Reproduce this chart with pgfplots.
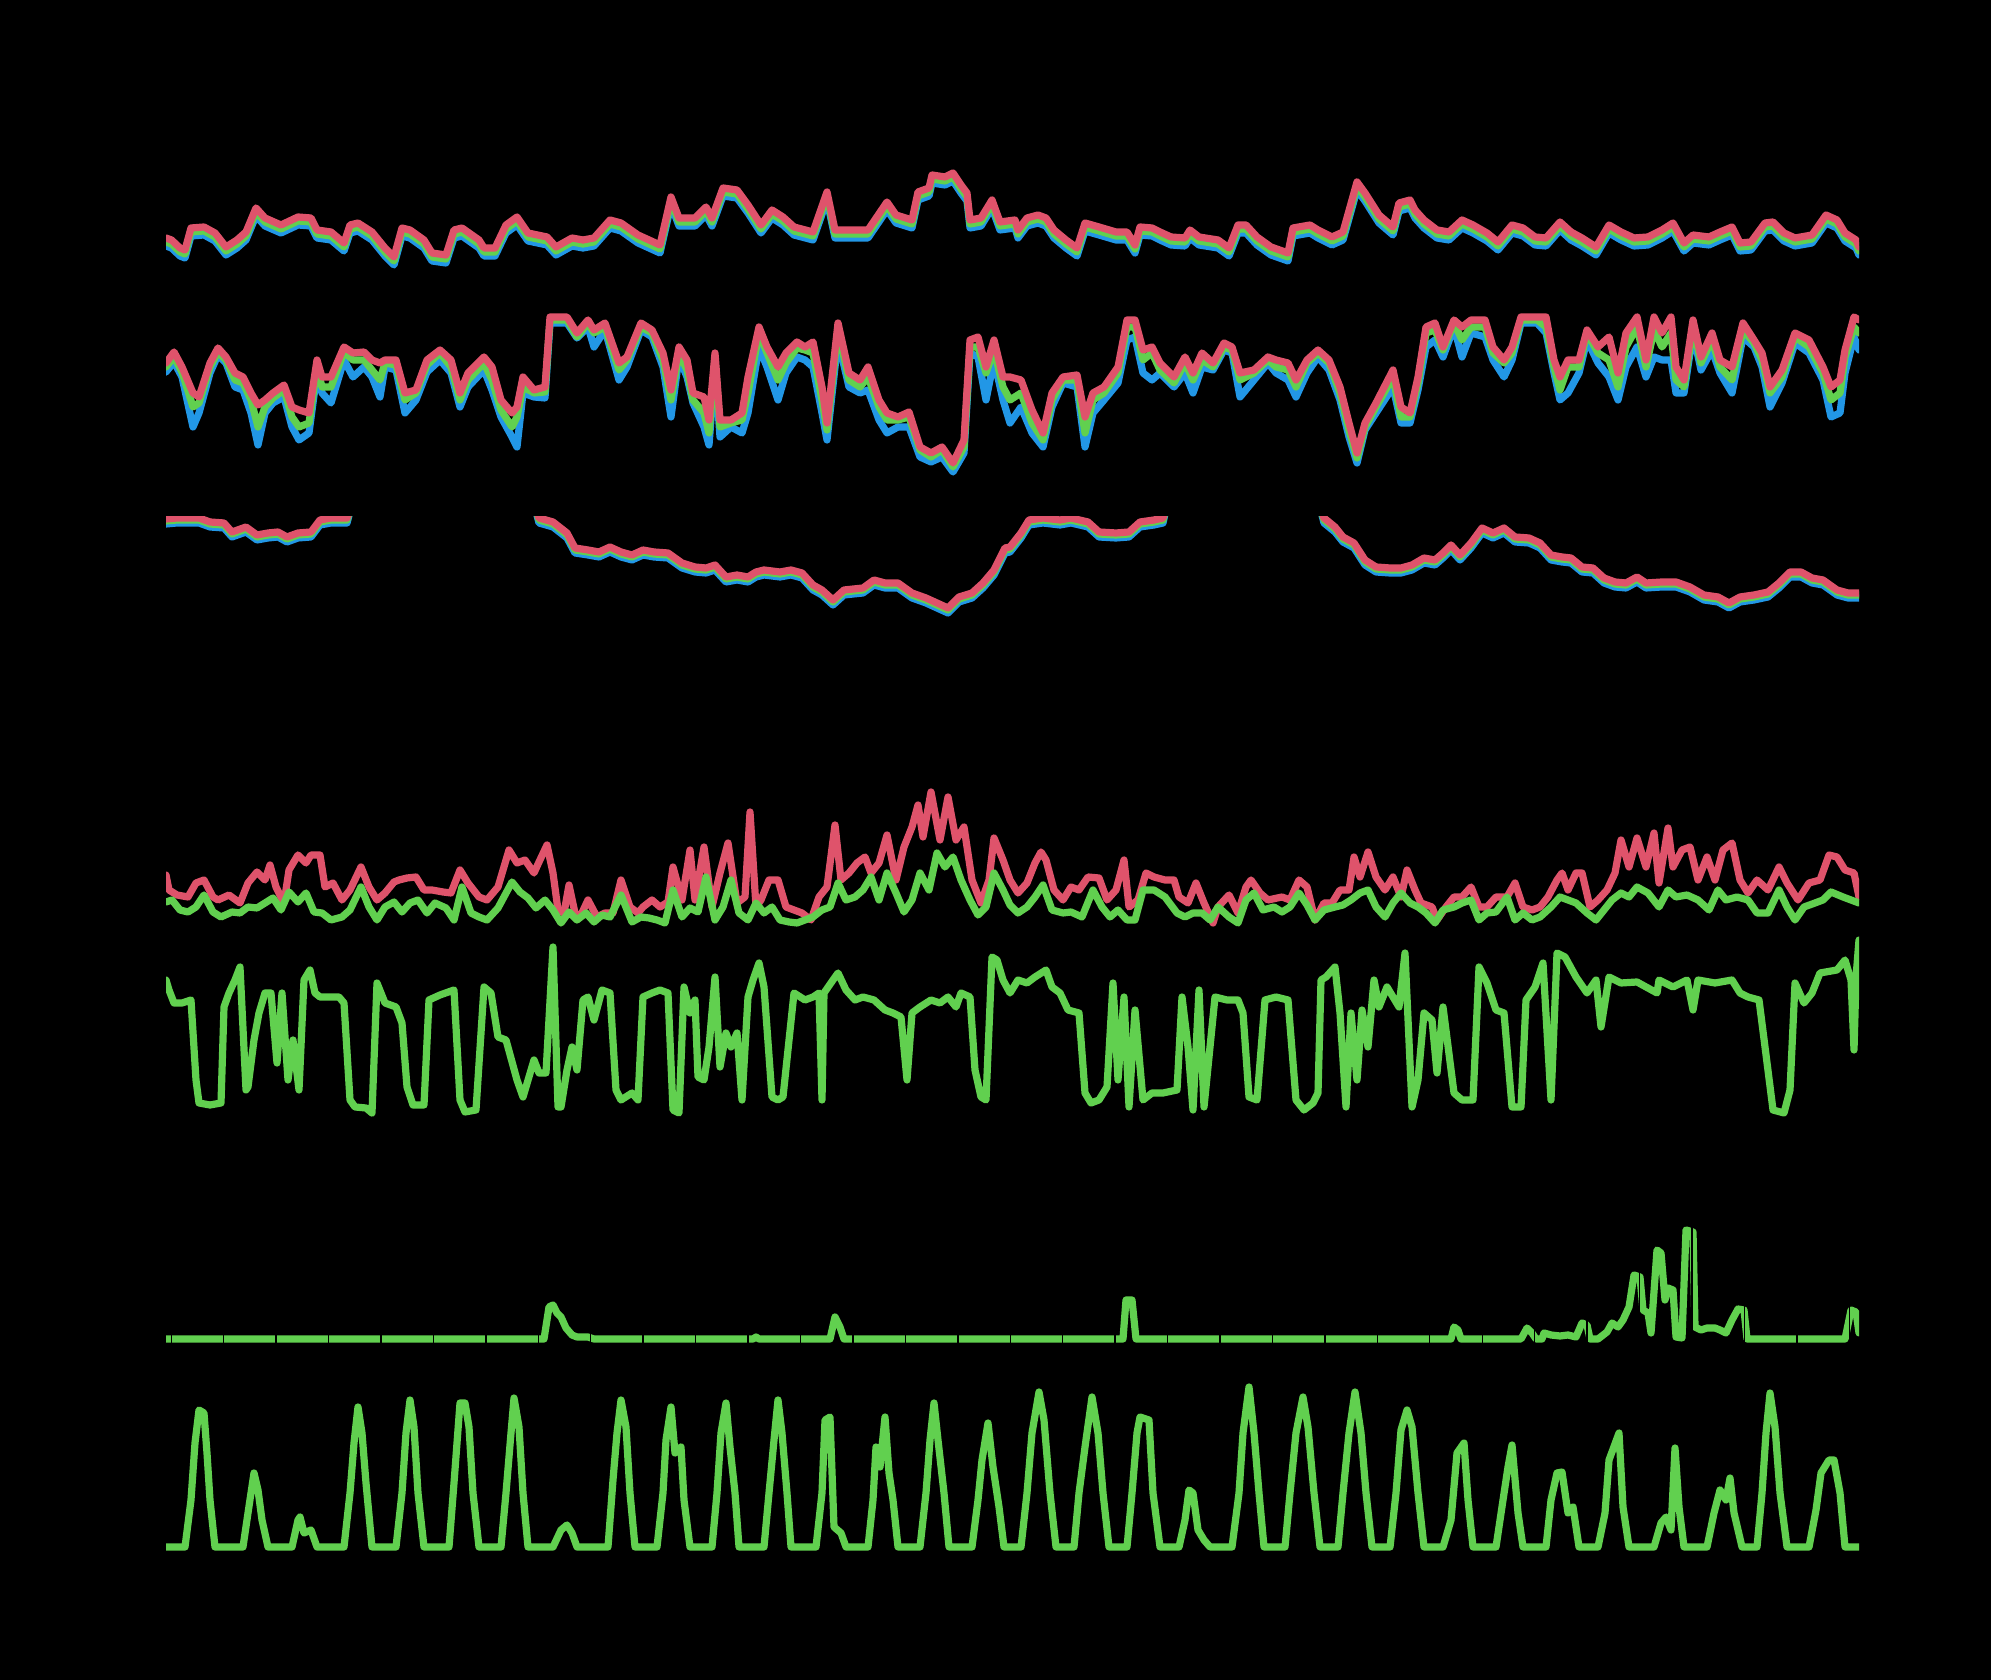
\documentclass[border=0pt]{standalone}
\usepackage{pgfplots}
\usepackage{pgfplotstable}
\pgfplotsset{compat=1.18}
\definecolor{rred}{HTML}{DF536B}
\definecolor{rgreen}{HTML}{61D04F}
\definecolor{rblue}{HTML}{2297E6}
\tikzset{L/.style={line width=1.8pt, line join=round, line cap=round}}
\pgfplotsset{panel/.style={scale only axis, width=423.25pt, xmin=0, xmax=1693,
  anchor=south west, axis line style={draw=none}, xtick=\empty, ytick=\empty}}

\pgfplotstableread{
x r g b
0 35 31 27
5.5 33 29 25
14 25 21 17
19 23 19 15
25 45 41 37
38 46 42 38
49 40 36 32
60 26 22 18
71 33 29 25
80 41 37 33
90 65 61 57
99 55 51 47
115 48 44 40
132 56 52 48
145 55 51 47
151 43 39 35
165 41 37 33
178 30 26 22
184 48 44 40
192 50 46 42
206 41 37 33
219 25 21 17
228 16 12 8
236 45 41 37
244 43 39 35
258 33 29 25
266 20 16 12
280 18 14 10
288 43 39 35
296 45 41 37
313 33 29 25
318 25 21 17
329 25 21 17
340 48 44 40
351 56 52 48
362 40 36 32
381 36 32 28
390 26 22 18
406 35 31 27
417 33 29 25
428 35 31 27
444 53 49 45
455 50 46 42
472 38 34 30
494 28 24 20
505 76 72 68
513 55 51 47
529 55 51 47
540 66 62 58
546 55 51 47
557 85 81 77
571 83 79 75
582 68 64 60
595 48 44 40
606 63 59 55
617 56 52 48
628 46 42 38
647 41 37 33
661 81 77 73
669 43 39 35
686 43 39 35
702 43 39 35
721 71 67 63
730 58 54 50
746 53 49 45
752 81 77 73
763 85 81 77
766 98 94 90
779 96 92 88
787 100 96 92
795 88 84 80
801 80 76 72
804 53 49 45
815 55 51 47
826 73 69 65
834 51 47 43
849 53 49 45
852 43 39 35
861 55 51 47
872 58 54 50
880 55 51 47
888 43 39 35
900 33 29 25
911 25 21 17
919 50 46 42
933 46 42 38
950 41 37 33
961 41 37 33
969 28 24 20
974 46 42 38
986 45 41 37
994 41 37 33
1005 36 32 28
1019 35 31 27
1024 43 39 35
1033 36 32 28
1052 33 29 25
1063 25 21 17
1072 48 44 40
1080 48 44 40
1091 36 32 28
1105 26 22 18
1122 20 16 12
1127 45 41 37
1144 48 44 40
1152 43 39 35
1166 36 32 28
1177 41 37 33
1191 91 87 83
1199 80 76 72
1213 58 54 50
1227 46 42 38
1233 70 66 62
1244 73 69 65
1249 63 59 55
1258 53 49 45
1271 43 39 35
1283 41 37 33
1296 53 49 45
1307 48 44 40
1321 40 36 32
1332 31 27 23
1346 48 44 40
1357 45 41 37
1369 36 32 28
1380 35 31 27
1394 51 47 43
1405 41 37 33
1416 35 31 27
1430 26 22 18
1443 48 44 40
1455 41 37 33
1468 35 31 27
1482 36 32 28
1496 43 39 35
1507 50 46 42
1518 30 26 22
1527 38 34 30
1543 36 32 28
1554 41 37 33
1566 46 42 38
1574 30 26 22
1585 31 27 23
1599 50 46 42
1607 51 47 43
1618 40 36 32
1629 35 31 27
1646 38 34 30
1660 58 54 50
1671 53 49 45
1679 40 36 32
1690 33 29 25
1693 26 22 18
}\tabA

\pgfplotstableread{
x r g b
0 120 116 111
8 131 126 121
16 116 111 106
27 90 76 56
33 86 80 70
44 120 116 110
52 135 131 128
60 126 123 120
69 110 103 96
77 106 100 93
85 90 83 70
92 78 56 38
99 83 76 70
107 90 85 80
118 98 93 86
126 76 66 56
133 73 56 43
143 70 60 50
151 123 116 110
156 106 96 90
165 106 96 80
178 136 131 123
187 130 123 106
198 131 123 116
206 123 113 106
214 120 103 86
219 123 120 116
230 123 118 113
239 90 83 70
250 93 90 83
261 123 118 111
274 133 130 123
285 123 116 110
294 90 83 76
302 110 103 96
318 126 120 113
326 116 103 93
335 83 73 66
346 70 56 46
351 76 66 36
357 106 96 90
368 93 90 86
379 96 91 85
384 166 163 160
401 166 163 160
411 150 146 145
422 163 160 156
428 153 150 136
439 160 156 153
453 120 113 103
461 126 123 116
475 160 156 153
486 153 150 146
497 130 123 116
505 93 83 66
513 136 130 126
521 123 113 106
527 90 83 80
538 86 70 56
543 63 50 38
549 130 123 116
554 63 56 46
565 63 60 56
576 70 63 50
582 106 90 70
593 156 150 136
601 136 130 116
612 116 103 83
620 130 120 110
631 141 135 126
639 136 133 123
647 141 130 116
656 96 83 70
661 60 53 43
672 160 153 143
683 110 103 96
694 103 96 90
702 116 106 93
713 83 76 63
721 70 63 50
732 66 63 56
743 71 66 56
754 36 33 26
765 30 26 21
776 36 33 26
787 20 16 11
798 43 36 30
804 143 136 130
812 146 136 126
820 116 110 83
828 143 133 123
837 106 96 83
844 106 83 60
855 103 90 76
866 73 60 50
877 50 43 36
886 90 83 76
897 106 103 100
911 108 103 96
919 66 50 36
927 90 83 70
938 96 90 83
952 116 110 100
961 163 156 143
969 163 156 146
977 133 123 110
986 136 130 103
994 120 113 110
1008 106 100 96
1019 126 120 110
1027 110 103 90
1036 130 123 116
1047 120 116 113
1058 140 136 133
1066 136 133 130
1074 110 103 86
1088 113 110 103
1102 126 123 120
1110 123 116 110
1122 120 113 103
1130 103 96 86
1141 123 120 110
1152 133 130 126
1163 123 120 113
1174 96 90 83
1183 60 53 46
1191 30 25 20
1199 60 56 53
1210 80 76 70
1227 113 106 96
1235 76 66 60
1244 70 66 60
1252 106 100 93
1260 156 150 136
1269 160 153 143
1277 136 133 126
1288 163 160 156
1296 156 143 126
1305 163 156 150
1319 163 156 146
1327 136 130 123
1338 123 120 106
1346 136 130 123
1355 166 163 160
1371 166 163 160
1380 166 156 150
1388 123 116 110
1394 106 93 83
1402 123 116 90
1413 123 116 110
1421 153 150 143
1432 136 130 120
1443 146 123 106
1452 110 96 83
1460 150 136 116
1471 166 156 136
1480 123 116 106
1488 166 153 126
1496 150 136 123
1505 166 150 123
1510 116 103 90
1518 103 96 90
1527 163 156 150
1535 126 120 113
1546 150 143 133
1554 123 116 110
1566 116 103 90
1577 160 153 146
1588 143 140 136
1596 130 123 116
1604 96 90 76
1616 113 106 100
1629 150 146 140
1643 143 136 130
1657 116 110 103
1665 96 83 66
1674 103 90 70
1679 133 126 110
1688 166 156 146
1693 163 150 133
}\tabB

\pgfplotstableread{
x r g b
0 116 114 111
11 117 115 112
33 117 115 112
44 113 111 108
58 112 110 107
66 103 101 98
80 108 106 103
91 100 98 95
102 102 100 97
112 103 101 98
121 98 96 93
132 102 100 97
145 103 101 98
154 115 113 110
165 117 115 112
181 117 115 112
187 135 135 135
367 135 135 135
373 117 115 112
387 113 111 108
401 102 100 97
409 87 85 82
422 85 83 80
433 83 81 78
444 88 86 83
455 83 81 78
466 80 78 75
477 85 83 80
488 83 81 78
502 82 80 77
516 72 70 67
529 68 66 63
540 67 65 62
549 70 68 65
560 58 56 53
571 60 58 55
582 58 56 53
590 63 61 58
598 65 63 60
614 63 61 58
625 65 63 60
636 62 60 57
647 50 48 45
656 45 43 40
667 35 33 30
678 45 43 40
697 47 45 42
708 55 53 50
719 52 50 47
732 52 50 47
746 42 40 37
760 37 35 32
771 32 30 27
782 27 25 22
793 38 36 33
806 42 40 37
817 52 50 47
828 65 63 60
839 87 85 82
844 88 86 83
855 102 100 97
863 115 113 110
877 117 115 112
894 115 113 110
905 117 115 112
922 113 111 108
933 103 101 98
950 102 100 97
963 103 101 98
974 113 111 108
988 115 113 110
997 117 115 112
1002 135 135 135
1152 135 135 135
1158 117 115 112
1169 108 106 103
1177 98 96 93
1188 92 90 87
1199 75 73 70
1210 68 66 63
1224 67 65 62
1235 67 65 62
1246 70 68 65
1258 77 75 72
1269 75 73 70
1277 82 80 77
1285 90 88 85
1294 80 78 75
1305 92 90 87
1316 107 105 102
1327 102 100 97
1338 107 105 102
1349 98 96 93
1363 97 95 92
1374 92 90 87
1385 80 78 75
1396 78 76 73
1405 77 75 72
1416 68 66 63
1427 67 65 62
1438 57 55 52
1449 53 51 48
1460 52 50 47
1471 58 56 53
1480 52 50 47
1496 53 51 48
1510 53 51 48
1524 48 46 43
1538 40 38 35
1552 38 36 33
1563 32 30 27
1574 38 36 33
1588 40 38 35
1602 43 41 38
1613 52 50 47
1624 63 61 58
1635 63 61 58
1646 57 55 52
1657 55 53 50
1671 45 43 40
1682 42 40 37
1693 42 40 37
}\tabC

\pgfplotstableread{
x y
0 55
3 40
11 35
22 33
30 47
38 50
47 33
52 30
63 35
74 27
82 47
91 58
99 50
104 65
110 43
118 27
123 60
132 75
140 67
145 75
154 75
159 43
167 47
176 30
184 40
195 63
203 43
211 30
219 37
228 48
233 50
241 52
250 53
258 40
266 40
277 38
285 37
294 60
302 47
313 33
321 30
332 43
343 80
351 67
359 70
368 57
373 68
381 85
387 57
392 20
398 17
403 45
409 17
414 13
422 30
431 13
439 17
447 17
455 50
464 23
472 17
477 23
486 30
494 23
502 28
507 63
516 30
524 80
529 30
538 83
546 23
554 57
562 87
571 27
579 33
584 118
590 23
595 30
603 50
612 50
620 23
628 20
636 17
645 10
653 33
661 43
669 105
675 50
683 57
691 67
699 73
705 57
713 67
721 95
730 50
738 83
746 103
752 125
757 93
765 138
774 90
782 133
790 90
798 103
806 50
815 27
823 50
828 92
837 70
844 50
852 37
861 47
869 67
875 78
880 70
888 40
897 30
905 43
913 40
922 53
933 52
941 30
950 40
958 70
963 23
972 30
980 57
988 53
999 50
1008 50
1013 33
1022 27
1030 47
1038 27
1047 7
1052 23
1063 35
1072 17
1080 43
1085 50
1094 37
1102 30
1116 33
1124 30
1133 50
1141 43
1149 10
1158 27
1166 27
1174 40
1183 40
1188 73
1194 53
1202 78
1210 53
1219 40
1227 53
1235 33
1241 60
1249 40
1255 27
1266 23
1271 10
1280 23
1288 33
1296 33
1305 43
1313 23
1321 23
1330 33
1341 33
1349 47
1357 23
1366 20
1374 23
1382 33
1391 50
1396 57
1402 40
1410 57
1416 57
1424 23
1432 30
1441 40
1449 57
1455 90
1463 63
1471 92
1480 63
1488 97
1493 47
1502 102
1507 63
1516 80
1524 83
1532 50
1541 73
1549 50
1557 80
1566 87
1574 50
1582 37
1591 50
1602 40
1613 63
1621 47
1632 30
1643 47
1654 50
1663 75
1671 73
1679 60
1688 57
1693 33
}\tabDr

\pgfplotstableread{
x y
0 28
6 30
14 20
22 18
30 23
38 35
47 18
55 13
66 18
74 17
82 23
91 22
99 27
107 32
115 20
123 38
132 28
140 37
148 18
156 17
165 10
176 13
184 20
195 43
203 23
211 10
219 23
228 28
236 18
244 27
252 30
261 17
269 27
280 22
288 10
296 43
305 17
313 13
321 10
332 22
346 48
354 38
362 32
370 22
379 30
387 20
395 7
403 18
411 10
420 17
428 8
436 15
444 13
455 35
466 8
475 13
483 12
491 10
499 7
507 40
516 13
524 22
532 18
540 53
549 10
557 23
565 50
573 17
582 10
590 27
598 17
606 23
614 10
623 8
631 7
639 10
647 13
656 20
664 23
672 47
680 30
689 33
697 40
705 53
713 30
721 57
730 37
738 18
746 30
754 57
763 40
771 77
779 63
787 73
795 50
804 30
812 15
820 23
828 57
837 40
844 25
852 17
861 23
869 33
877 45
886 20
897 17
905 18
916 13
927 40
936 23
944 13
952 20
961 10
969 10
977 40
988 40
999 33
1011 17
1019 13
1027 17
1036 17
1044 10
1052 23
1063 13
1072 7
1080 30
1088 37
1097 20
1108 23
1116 18
1124 23
1133 37
1141 25
1149 10
1158 20
1169 23
1177 25
1185 30
1194 37
1202 40
1210 23
1219 13
1227 27
1235 37
1244 27
1252 23
1260 17
1269 7
1277 20
1288 23
1296 27
1305 30
1313 10
1321 17
1330 18
1341 33
1349 10
1357 17
1366 10
1374 13
1385 23
1394 33
1402 30
1410 27
1421 17
1430 10
1438 20
1446 30
1455 37
1463 33
1471 43
1482 37
1493 23
1502 40
1510 33
1521 35
1532 30
1543 20
1552 40
1560 30
1571 33
1582 30
1591 17
1602 17
1613 40
1621 23
1629 10
1638 23
1649 27
1657 30
1665 38
1677 33
1685 30
1693 27
}\tabDg

\pgfplotstableread{
x y
0 145
3 135
8 122
16 122
25 125
30 45
33 22
44 20
55 22
58 118
63 132
69 145
74 158
80 35
82 38
88 85
93 112
99 132
105 132
111 62
116 132
122 45
127 85
133 35
138 145
144 155
149 132
154 128
165 128
173 128
178 122
184 25
189 18
200 17
206 12
211 142
219 122
230 118
236 102
241 38
247 20
258 20
263 125
274 130
288 135
294 25
299 13
310 15
318 138
325 132
332 88
340 85
351 45
357 28
368 65
373 52
380 52
387 178
392 18
395 18
401 55
406 78
411 55
417 125
422 128
428 105
436 135
444 132
450 35
455 25
466 32
472 25
477 128
486 132
494 135
502 132
507 15
513 12
518 138
524 112
529 125
532 48
538 45
543 78
549 148
554 58
560 92
565 78
571 92
576 25
582 128
587 145
593 162
598 138
606 28
612 25
617 28
628 132
639 125
647 128
653 132
656 25
658 132
667 145
672 152
680 135
689 125
697 128
708 125
719 115
727 112
735 108
741 45
746 112
754 118
765 125
774 122
782 128
790 118
795 132
804 128
809 55
815 28
820 25
826 168
831 165
837 145
844 132
852 145
861 142
869 148
880 155
886 138
894 132
902 115
913 112
919 32
925 22
933 25
941 38
947 142
952 45
958 128
963 18
969 115
977 25
986 32
997 32
1011 35
1016 128
1022 78
1027 15
1033 135
1038 18
1044 78
1049 128
1061 125
1072 125
1077 112
1083 28
1091 25
1099 125
1110 128
1122 125
1130 25
1138 15
1147 22
1152 32
1155 145
1160 148
1169 158
1174 112
1180 18
1185 112
1191 45
1196 115
1202 78
1208 145
1213 118
1221 138
1233 118
1239 172
1246 18
1252 45
1258 112
1266 105
1271 52
1277 118
1288 32
1296 25
1307 25
1313 158
1321 142
1330 115
1338 112
1346 18
1355 18
1360 125
1369 138
1377 162
1385 25
1391 172
1399 168
1410 148
1421 132
1430 145
1435 98
1443 148
1455 142
1471 143
1491 132
1493 145
1507 138
1521 145
1527 115
1532 145
1549 142
1566 145
1574 132
1582 128
1593 125
1599 78
1607 15
1618 12
1624 35
1629 142
1638 122
1646 132
1654 152
1671 155
1679 165
1685 145
1688 75
1690 148
1693 185
}\tabE

\pgfplotstableread{
x y
0 0
378 0
383 32
387 34
391 26
395 22
400 11
406 4
411 2
422 2
428 0
587 0
590 2
593 0
664 0
669 22
674 12
678 0
957 0
960 39
966 39
970 0
1285 0
1288 12
1292 9
1295 0
1355 0
1361 11
1366 6
1370 0
1376 0
1378 6
1385 4
1394 3
1402 4
1410 2
1416 16
1421 14
1424 0
1432 0
1441 7
1446 16
1452 12
1457 19
1463 32
1468 64
1474 62
1477 29
1482 26
1485 6
1491 89
1495 86
1499 39
1502 51
1507 49
1510 2
1516 1
1520 109
1527 107
1529 12
1535 9
1541 11
1549 11
1554 9
1560 6
1566 19
1572 30
1578 29
1581 0
1679 0
1685 29
1690 27
1693 6
}\tabF

\pgfplotstableread{
x y
0 0
19 0
25 47
29 104
33 137
38 134
41 94
44 47
49 0
77 0
82 34
88 74
92 57
96 27
102 0
126 0
132 27
134 30
138 14
145 17
151 0
178 0
184 54
188 104
192 140
196 114
200 64
206 0
230 0
236 54
240 114
244 147
248 120
252 54
258 0
283 0
288 64
294 144
299 144
303 120
307 54
313 0
335 0
340 54
345 114
348 149
353 120
357 54
362 0
387 0
395 17
401 22
406 14
411 0
442 0
447 67
451 114
455 147
460 120
464 54
469 0
491 0
497 54
500 107
505 140
509 94
515 100
518 47
524 0
546 0
551 54
555 114
560 144
564 100
569 54
573 0
598 0
603 54
608 107
612 147
616 114
621 54
625 0
650 0
656 54
659 127
664 130
668 20
675 14
680 0
702 0
707 47
710 100
714 80
719 130
723 74
727 47
732 0
754 0
760 54
764 107
768 144
772 107
778 54
783 0
806 0
812 47
816 87
822 124
827 80
833 40
838 0
855 0
861 54
866 114
873 155
878 127
884 54
890 0
908 0
913 54
919 100
926 150
932 114
937 54
943 0
961 0
966 54
971 114
974 130
983 127
987 54
994 0
1013 0
1019 27
1023 57
1027 54
1032 17
1038 7
1044 0
1066 0
1073 54
1077 114
1083 160
1088 114
1093 54
1098 0
1119 0
1124 54
1130 114
1137 150
1142 120
1148 54
1154 0
1172 0
1177 54
1183 114
1189 155
1195 114
1200 54
1206 0
1224 0
1230 54
1235 117
1241 137
1246 120
1252 54
1258 0
1277 0
1285 27
1291 94
1298 104
1302 47
1307 0
1330 0
1337 47
1342 80
1346 102
1352 34
1357 0
1380 0
1385 47
1391 74
1396 75
1402 34
1407 40
1413 0
1432 0
1439 34
1443 87
1453 114
1457 40
1463 0
1488 0
1495 24
1500 30
1505 17
1509 99
1513 40
1518 0
1541 0
1548 34
1554 57
1560 47
1564 69
1568 34
1576 0
1591 0
1596 54
1600 114
1604 154
1609 120
1614 54
1621 0
1643 0
1650 37
1655 74
1663 87
1668 87
1674 54
1679 0
1693 0
}\tabG

\begin{document}
\begin{tikzpicture}
\useasboundingbox (0,0) rectangle (497.75pt,420pt);
\fill[black] (0,0) rectangle (497.75pt,420pt);

\begin{axis}[panel, at={(41.5pt,351.75pt)}, height=30.25pt, ymin=0, ymax=121]
\addplot[rblue, L, mark=none] table[x=x,y=b]{\tabA};
\addplot[rgreen, L, mark=none] table[x=x,y=g]{\tabA};
\addplot[rred, L, mark=none] table[x=x,y=r]{\tabA};
\end{axis}

\begin{axis}[panel, at={(41.5pt,299.25pt)}, height=43pt, ymin=0, ymax=172]
\addplot[rblue, L, mark=none] table[x=x,y=b]{\tabB};
\addplot[rgreen, L, mark=none] table[x=x,y=g]{\tabB};
\addplot[rred, L, mark=none] table[x=x,y=r]{\tabB};
\end{axis}

\begin{axis}[panel, at={(41.5pt,261.25pt)}, height=29.5pt, ymin=0, ymax=118]
\addplot[rblue, L, mark=none] table[x=x,y=b]{\tabC};
\addplot[rgreen, L, mark=none] table[x=x,y=g]{\tabC};
\addplot[rred, L, mark=none] table[x=x,y=r]{\tabC};
\end{axis}

\begin{axis}[panel, at={(41.5pt,187.5pt)}, height=38.75pt, ymin=0, ymax=155]
\addplot[rred, L, mark=none] table[x=x,y=y]{\tabDr};
\addplot[rgreen, L, mark=none] table[x=x,y=y]{\tabDg};
\end{axis}

\begin{axis}[panel, at={(41.5pt,138.75pt)}, height=48.75pt, ymin=0, ymax=195]
\addplot[rgreen, L, mark=none] table[x=x,y=y]{\tabE};
\end{axis}

\begin{axis}[panel, at={(41.5pt,82.5pt)}, height=33.75pt, ymin=-11, ymax=124,
  xtick={5.2,57.64,...,1690}, xticklabels={}, major tick length=0pt,
  xmajorgrids, major grid style={black, line width=0.35pt}, axis on top]
\addplot[rgreen, L, mark=none] table[x=x,y=y]{\tabF};
\end{axis}

\begin{axis}[panel, at={(41.5pt,30pt)}, height=46.25pt, ymin=-13, ymax=172]
\addplot[rgreen, L, mark=none] table[x=x,y=y]{\tabG};
\end{axis}
\end{tikzpicture}
\end{document}
